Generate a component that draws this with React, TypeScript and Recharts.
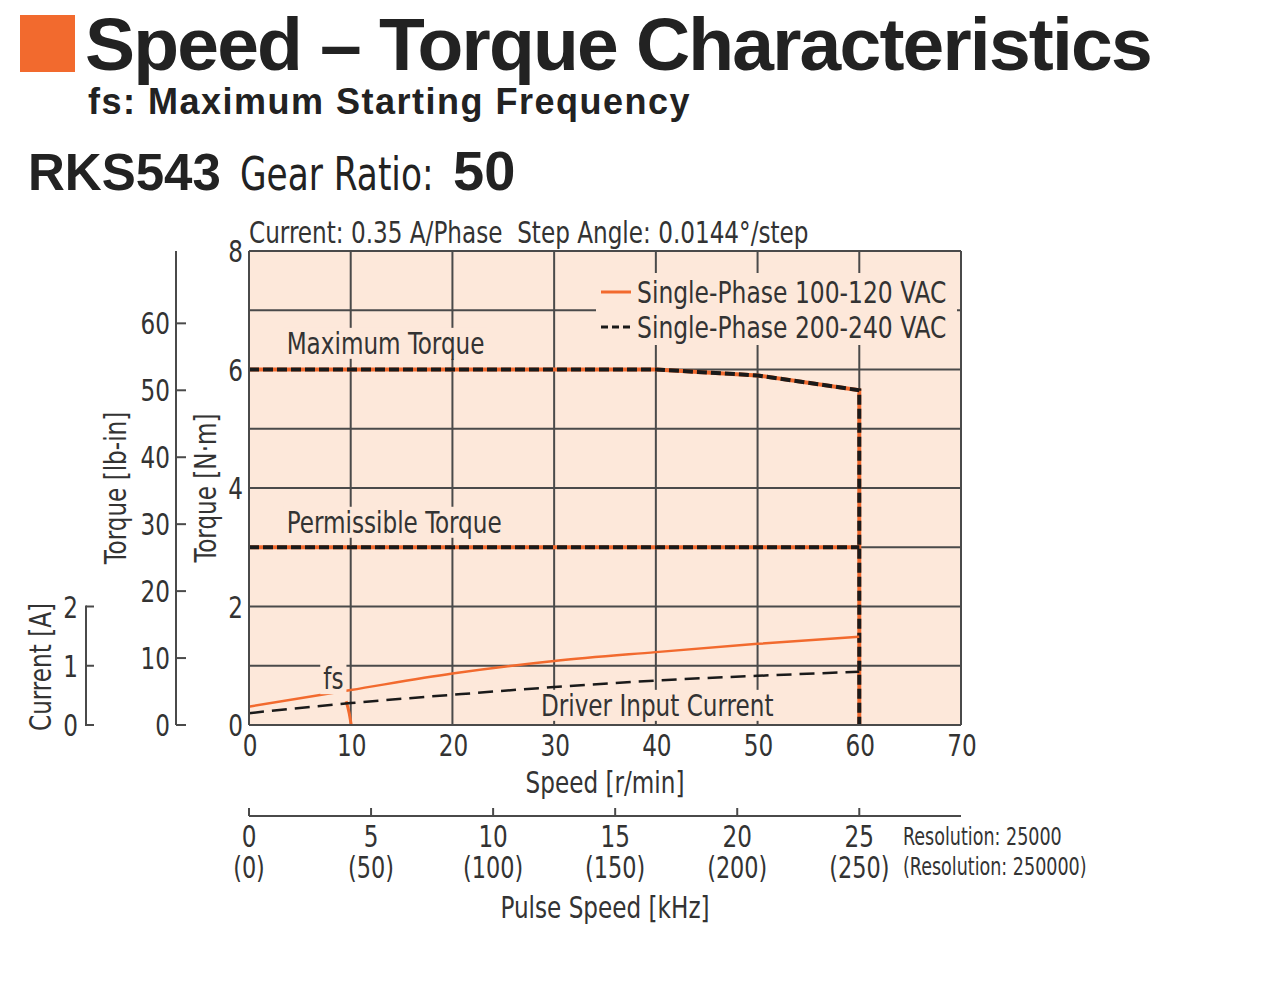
import React from 'react';
import { LineChart, Line, XAxis, YAxis, CartesianGrid, ReferenceDot, Legend } from 'recharts';

// ---- data ----
const speedTicks = [0, 10, 20, 30, 40, 50, 60, 70];
const torqueTicks = [0, 1, 2, 3, 4, 5, 6, 7, 8];
const lbinTicks = [0, 10, 20, 30, 40, 50, 60];
const currentTicks = [0, 1, 2];
const pulseTicks = [0, 5, 10, 15, 20, 25];

const maxTorque = [
  { speed: 0, torque: 6 },
  { speed: 40, torque: 6 },
  { speed: 50, torque: 5.9 },
  { speed: 60, torque: 5.65 },
  { speed: 60, torque: 0 },
];
const permissibleTorque = [
  { speed: 0, torque: 3 },
  { speed: 60, torque: 3 },
];
const fsCurve = [
  { speed: 9.55, torque: 0.4 },
  { speed: 9.85, torque: 0.2 },
  { speed: 10.05, torque: 0 },
];
const current100 = [
  { speed: 0, amp: 0.31 },
  { speed: 10, amp: 0.59 },
  { speed: 20, amp: 0.87 },
  { speed: 30, amp: 1.08 },
  { speed: 40, amp: 1.23 },
  { speed: 50, amp: 1.37 },
  { speed: 60, amp: 1.49 },
];
const current200 = [
  { speed: 0, amp: 0.2 },
  { speed: 10, amp: 0.37 },
  { speed: 20, amp: 0.51 },
  { speed: 30, amp: 0.64 },
  { speed: 40, amp: 0.75 },
  { speed: 50, amp: 0.83 },
  { speed: 60, amp: 0.9 },
];
const annotations = [
  { speed: 3.7, torque: 6.45, text: 'Maximum Torque' },
  { speed: 3.7, torque: 3.43, text: 'Permissible Torque' },
  { speed: 7.3, torque: 0.79, text: 'fs' },
  { speed: 28.7, torque: 0.34, text: 'Driver Input Current' },
];
const legendItems = [
  { label: 'Single-Phase 100-120 VAC', color: '#F26A2E', dash: undefined },
  { label: 'Single-Phase 200-240 VAC', color: '#1a1a1a', dash: '7 4' },
];

const NM_TO_LBIN = 8.8507;
const PULSE_PER_SPEED = 25 / 60;
const pulseRows = pulseTicks.map((p) => ({ pulse: p }));

// ---- styles ----
const ORANGE = '#F26A2E';
const BLACK = '#1a1a1a';
const PEACH = '#FDE8DA';
const GRID = '#4a4a4a';
const TEXT = '#333';
const NARROW = '"DejaVu Sans Condensed", "DejaVu Sans", sans-serif';
const BOLD = '"Liberation Sans", Arial, sans-serif';
const FS = 31;
const SX = 0.83; // squeeze the condensed font a bit further
const PLOT_H = 474;
const PX_PER_UNIT = PLOT_H / 8;

let ctx: CanvasRenderingContext2D | null = null;
function textWidth(text: string, size: number) {
  if (!ctx) ctx = document.createElement('canvas').getContext('2d');
  if (!ctx) return text.length * size * 0.5 * SX;
  ctx.font = `${size}px ${NARROW}`;
  return ctx.measureText(text).width * SX;
}

const NText = ({ x, y, anchor = 'start', size = FS, sx = SX, rotate = 0, fill = TEXT, children }: any) => (
  <text
    transform={`translate(${x},${y})${rotate ? ` rotate(${rotate})` : ''} scale(${sx},1)`}
    textAnchor={anchor}
    fontSize={size}
    fontFamily={NARROW}
    fill={fill}
  >
    {children}
  </text>
);

const NmTick = ({ x, y, payload }: any) =>
  payload.value % 2 === 0 ? (
    <NText x={x - 6} y={y + 11} anchor="end">
      {payload.value}
    </NText>
  ) : null;

const LbinTick = ({ x, y, payload }: any) => (
  <g>
    <line x1={x} x2={x + 10} y1={y} y2={y} stroke={GRID} strokeWidth={2} />
    <NText x={x - 6} y={y + 11} anchor="end">
      {payload.value}
    </NText>
  </g>
);

const CurrentTick = ({ x, y, payload }: any) => (
  <g>
    <line x1={x} x2={x + 8} y1={y} y2={y} stroke={GRID} strokeWidth={2} />
    {payload.value < 2 && (
      <line x1={x} x2={x} y1={y + 1} y2={y - PX_PER_UNIT - 1} stroke={GRID} strokeWidth={2} />
    )}
    <NText x={x - 8} y={y + 11} anchor="end">
      {payload.value}
    </NText>
  </g>
);

const SpeedTick = ({ x, y, payload }: any) => (
  <NText x={x + 1} y={y + 31} anchor="middle">
    {payload.value}
  </NText>
);

const PulseTick = ({ x, y, payload }: any) => (
  <g>
    <line x1={x} x2={x} y1={y} y2={y - 8} stroke={GRID} strokeWidth={2} />
    <NText x={x} y={y + 31} anchor="middle">
      {payload.value}
    </NText>
    <NText x={x} y={y + 62} anchor="middle" size={30}>
      ({payload.value * 10})
    </NText>
  </g>
);

const VTitle = ({ viewBox, text, dx, cyFromBottom }: any) => {
  const cx = viewBox.x + dx;
  const cy = cyFromBottom != null ? viewBox.y + viewBox.height - cyFromBottom : viewBox.y + viewBox.height / 2;
  return (
    <NText x={cx + 11} y={cy} anchor="middle" rotate={-90}>
      {text}
    </NText>
  );
};

const HTitle = ({ viewBox, text, dy }: any) => (
  <NText x={viewBox.x + viewBox.width / 2} y={viewBox.y + dy} anchor="middle">
    {text}
  </NText>
);

const Annotation = ({ cx, cy, text }: any) => {
  const w = textWidth(text, FS);
  return (
    <g>
      <rect x={cx - 3} y={cy - 15} width={w + 6} height={31} fill={PEACH} />
      <NText x={cx} y={cy + 11}>
        {text}
      </NText>
    </g>
  );
};

const LegendBox = () => (
  <div style={{ width: 361, height: 72, background: PEACH, position: 'relative' }}>
    {legendItems.map((it, i) => (
      <div
        key={it.label}
        style={{
          position: 'absolute',
          left: 5,
          top: 19 + i * 35 - 18,
          height: 36,
          display: 'flex',
          alignItems: 'center',
          whiteSpace: 'nowrap',
        }}
      >
        <svg width={30} height={6} style={{ marginRight: 6 }}>
          <line x1={0} x2={30} y1={3} y2={3} stroke={it.color} strokeWidth={3} strokeDasharray={it.dash} />
        </svg>
        <span
          style={{
            fontFamily: NARROW,
            fontSize: FS,
            color: TEXT,
            display: 'inline-block',
            transform: `scaleX(${SX + 0.01})`,
            transformOrigin: 'left center',
          }}
        >
          {it.label}
        </span>
      </div>
    ))}
  </div>
);

// axis ids: recharts stacks them in id order, first one next to the plot
const X_SPEED = 'x1speed';
const X_PULSE = 'x2pulse';
const Y_NM = 'y1nm';
const Y_LBIN = 'y2lbin';
const Y_AMP = 'y3amp';

export default function App() {
  return (
    <div style={{ position: 'absolute', left: 0, top: 0, width: 1280, height: 1002, background: '#fff' }}>
      <svg width={1280} height={250} style={{ position: 'absolute', left: 0, top: 0 }}>
        <rect x={20} y={15} width={55} height={57} fill={ORANGE} />
        <text x={85} y={70} fontSize={75} fontWeight={700} fontFamily={BOLD} letterSpacing={-1.8} fill="#222">
          Speed – Torque Characteristics
        </text>
        <text x={88} y={114} fontSize={36} fontWeight={700} fontFamily={BOLD} letterSpacing={1.5} fill="#222">
          fs: Maximum Starting Frequency
        </text>
        <text x={28} y={190} fontSize={51} fontWeight={700} fontFamily={BOLD} fill="#222">
          RKS543
        </text>
        <NText x={240} y={190} size={46} fill="#222">
          Gear Ratio:
        </NText>
        <text x={453} y={190} fontSize={56} fontWeight={700} fontFamily={BOLD} fill="#222">
          50
        </text>
        <NText x={249} y={243}>
          Current: 0.35 A/Phase{'\u00a0\u00a0'}Step Angle: 0.0144°/step
        </NText>
      </svg>
      <svg width={1280} height={120} style={{ position: 'absolute', left: 0, top: 800 }}>
        <NText x={903} y={45} size={25} sx={0.78}>
          Resolution: 25000
        </NText>
        <NText x={903} y={75} size={25} sx={0.78}>
          (Resolution: 250000)
        </NText>
      </svg>
      <div style={{ position: 'absolute', left: 0, top: 0 }}>
        <LineChart width={1280} height={1002} data={pulseRows} margin={{ top: 251, right: 319, bottom: 76, left: 0 }}>
          <CartesianGrid xAxisId={X_SPEED} yAxisId={Y_NM} fill={PEACH} fillOpacity={1} stroke={GRID} strokeWidth={2} />
          <XAxis
            xAxisId={X_SPEED}
            type="number"
            dataKey="speed"
            domain={[0, 70]}
            ticks={speedTicks}
            height={91}
            axisLine={{ stroke: GRID, strokeWidth: 2 }}
            tickLine={false}
            tickSize={0}
            tickMargin={0}
            tick={<SpeedTick />}
            label={<HTitle text="Speed [r/min]" dy={68} />}
          />
          <XAxis
            xAxisId={X_PULSE}
            type="number"
            dataKey="pulse"
            domain={[0, 70 * PULSE_PER_SPEED]}
            allowDataOverflow
            ticks={pulseTicks}
            height={110}
            axisLine={{ stroke: GRID, strokeWidth: 2 }}
            tickLine={false}
            tickSize={0}
            tickMargin={0}
            tick={<PulseTick />}
            label={<HTitle text="Pulse Speed [kHz]" dy={102} />}
          />
          <YAxis
            yAxisId={Y_NM}
            type="number"
            domain={[0, 8]}
            ticks={torqueTicks}
            width={73}
            axisLine={{ stroke: GRID, strokeWidth: 2 }}
            tickLine={false}
            tickSize={0}
            tickMargin={0}
            tick={<NmTick />}
            label={<VTitle text="Torque [N·m]" dx={29} />}
          />
          <YAxis
            yAxisId={Y_LBIN}
            type="number"
            domain={[0, 8 * NM_TO_LBIN]}
            allowDataOverflow
            ticks={lbinTicks}
            width={90}
            axisLine={{ stroke: GRID, strokeWidth: 2 }}
            tickLine={false}
            tickSize={0}
            tickMargin={0}
            tick={<LbinTick />}
            label={<VTitle text="Torque [lb-in]" dx={29} />}
          />
          <YAxis
            yAxisId={Y_AMP}
            type="number"
            domain={[0, 8]}
            ticks={currentTicks}
            width={86}
            axisLine={false}
            tickLine={false}
            tickSize={0}
            tickMargin={0}
            tick={<CurrentTick />}
            label={<VTitle text="Current [A]" dx={40} cyFromBottom={58} />}
          />
          {annotations.map((a) => (
            <ReferenceDot
              key={a.text}
              xAxisId={X_SPEED}
              yAxisId={Y_NM}
              x={a.speed}
              y={a.torque}
              r={0}
              shape={(p: any) => <Annotation {...p} text={a.text} />}
            />
          ))}
          <Line xAxisId={X_SPEED} yAxisId={Y_NM} data={maxTorque} dataKey="torque" type="linear" stroke={ORANGE} strokeWidth={4} dot={false} activeDot={false} isAnimationActive={false} />
          <Line xAxisId={X_SPEED} yAxisId={Y_NM} data={permissibleTorque} dataKey="torque" type="linear" stroke={ORANGE} strokeWidth={4} dot={false} activeDot={false} isAnimationActive={false} />
          <Line xAxisId={X_SPEED} yAxisId={Y_NM} data={maxTorque} dataKey="torque" type="linear" stroke={BLACK} strokeWidth={4} strokeDasharray="10 4" dot={false} activeDot={false} isAnimationActive={false} />
          <Line xAxisId={X_SPEED} yAxisId={Y_NM} data={permissibleTorque} dataKey="torque" type="linear" stroke={BLACK} strokeWidth={4} strokeDasharray="10 4" dot={false} activeDot={false} isAnimationActive={false} />
          <Line xAxisId={X_SPEED} yAxisId={Y_NM} data={fsCurve} dataKey="torque" type="monotone" stroke={ORANGE} strokeWidth={3} dot={false} activeDot={false} isAnimationActive={false} />
          <Line xAxisId={X_SPEED} yAxisId={Y_AMP} data={current100} dataKey="amp" type="monotone" stroke={ORANGE} strokeWidth={2.5} dot={false} activeDot={false} isAnimationActive={false} />
          <Line xAxisId={X_SPEED} yAxisId={Y_AMP} data={current200} dataKey="amp" type="monotone" stroke={BLACK} strokeWidth={2.5} strokeDasharray="15 8" dot={false} activeDot={false} isAnimationActive={false} />
          <Legend
            layout="horizontal"
            verticalAlign="middle"
            align="center"
            content={<LegendBox />}
            wrapperStyle={{ left: 596, top: 273, width: 361, height: 72 }}
          />
        </LineChart>
      </div>
    </div>
  );
}
